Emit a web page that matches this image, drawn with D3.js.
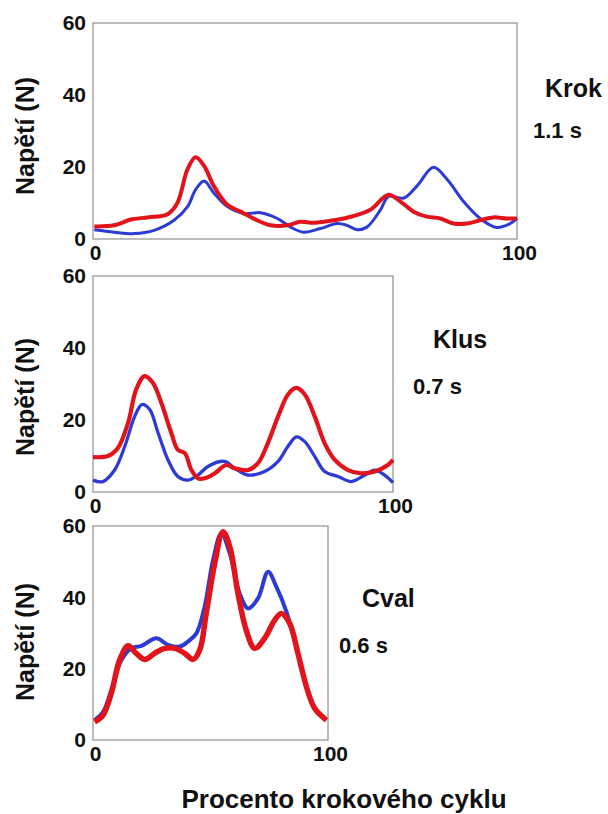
<!DOCTYPE html>
<html>
<head>
<meta charset="utf-8">
<script src="https://cdn.jsdelivr.net/npm/d3@7"></script>
<style>
  body { margin: 0; background: #fff; }
  text { font-family: "Liberation Sans", Arial, sans-serif; font-weight: bold; fill: #111; }
</style>
</head>
<body>
<div id="vis"></div>
<script>
const WIDTH = 608;
const HEIGHT = 814;

// gait names and stride duration
const gaits = ["Krok", "Klus", "Cval"];
const times = ["1.1 s", "0.7 s", "0.6 s"];
const yTicks = [0, 20, 40, 60];
const xTicks = [0, 100];

// [percent of stride, tension N]
const krokBlue = [[0.3,2.6],[5,1.9],[9.7,1.5],[14.4,2.4],[19.1,5.2],[22.3,9],[24.2,13.7],[26.2,16.1],[28.5,12.8],
  [31.7,9],[35.6,7.1],[39.5,7.3],[43.5,5.7],[46.6,3.3],[49.7,1.9],[53.6,2.9],[57.6,4.3],[59.9,3.8],[62.3,2.6],
  [64.6,3.3],[67.8,8.1],[69.7,11.8],[73.3,11.4],[76.4,14.7],[80.3,19.9],[83.5,16.6],[87.4,10.4],[91.3,5.7],
  [95.2,3.2],[98.4,4.3],[100,5.7]];
const krokRed = [[0.3,3.5],[5,3.8],[8.9,5.4],[12.9,6],[17.6,6.9],[19.9,10],[22.3,19.4],[24.2,22.7],[26.2,20.3],
  [28.5,14.7],[31.7,9.5],[34.8,7.6],[38.7,5.2],[41.9,3.8],[45.8,3.8],[48.9,4.8],[52.1,4.5],[56.8,5.2],[61.5,6.4],
  [65.4,8.1],[69.7,12.3],[72.5,10.4],[75.6,7.6],[78.7,6.2],[81.9,5.7],[85,4.3],[88.2,4.3],[91.3,5.2],[94.4,6],
  [97.6,5.7],[100,5.7]];

const klusBlue = [[0,3.3],[3.3,2.9],[7.2,6.1],[10.6,12.7],[13.9,21],[16.3,24.3],[18.9,22.9],[21.7,16.4],[25,8.9],
  [28.3,4.3],[31.7,3.3],[35,4.7],[38.3,7.1],[43.9,8.5],[47.2,6.6],[51.7,4.7],[57.2,5.7],[61.7,8.5],[65,12.7],
  [67.8,15.3],[70.6,14],[73.9,9.9],[77.2,5.7],[81.7,4.3],[86.1,2.9],[90.6,4.7],[93.9,6.1],[97.2,4.7],[100,2.6]];
const klusRed = [[0,9.7],[5,10],[8.3,12.2],[11.7,19.2],[14.4,28.5],[17.2,32.2],[20,30.3],[22.8,24.7],[26.1,16.4],
  [28.3,11.7],[30.6,10.8],[32.8,6.1],[35,3.8],[37.2,3.8],[40.6,5.2],[44.4,7.5],[47.2,6.6],[51.7,6.1],[55,8],
  [58.3,13.6],[61.7,21],[65,27.1],[67.8,28.9],[70.6,27.1],[73.9,21],[77.2,13.6],[80.6,8.9],[85,6.1],[89.4,5.2],
  [93.9,5.7],[98.3,7.5],[100,8.9]];

const cvalBlue = [[0.7,5.6],[4.3,7.9],[7.8,14],[12.1,22.4],[16.3,25.7],[20.6,26.4],[27,28.5],[31.9,26.7],[36.9,26.2],
  [40.4,27.6],[44,29.9],[47.5,37.4],[51.1,50.5],[54.6,57.9],[58.2,52.3],[62.4,41.1],[66,36.9],[70.2,39.7],
  [74.5,47.2],[78,43],[82.3,36],[87.2,24.3],[90.8,15],[94.3,8.9],[99.3,5.6]];
const cvalRed = [[0.7,5.1],[4.3,7],[7.8,13.1],[11.3,22.4],[14.9,26.4],[18.4,24.3],[22,22.6],[26.2,24.3],[30.5,25.7],
  [34.8,25.7],[39,24.3],[42.6,22.6],[45.4,25.2],[48.2,35.5],[51.8,49.5],[55.3,58.4],[58.2,54.2],[61.7,41.1],
  [65.2,30.8],[68.8,25.7],[73,28.5],[77.3,33.6],[80.1,35.5],[83.7,32.7],[87.2,24.3],[90.8,15],[94.3,8.9],[99.3,5.6]];

const blues = [krokBlue, klusBlue, cvalBlue];
const reds = [krokRed, klusRed, cvalRed];

// panel frames (pixels)
const PANELS = [
  {left: 93, right: 517, top: 23, bottom: 239, nameX: 545, nameY: 97, timeX: 533, timeY: 138, labY: 136, bw: 3, rw: 4},
  {left: 93, right: 393, top: 276, bottom: 492, nameX: 433, nameY: 348, timeX: 413, timeY: 394, labY: 397, bw: 3.3, rw: 4.2},
  {left: 93, right: 328, top: 526, bottom: 740, nameX: 362, nameY: 607, timeX: 339, timeY: 653, labY: 642, bw: 4, rw: 5.5}
];

const svg = d3.select("#vis").append("svg")
  .attr("width", WIDTH)
  .attr("height", HEIGHT);

PANELS.forEach((p, i) => {
  const x = d3.scaleLinear().domain([0, 100]).range([p.left, p.right]);
  const y = d3.scaleLinear().domain([0, 60]).range([p.bottom, p.top]);

  const line = d3.line()
    .x(d => x(d[0]))
    .y(d => y(d[1]))
    .curve(d3.curveCatmullRom.alpha(0.5));

  // frame
  svg.append("rect")
    .attr("x", p.left).attr("y", p.top)
    .attr("width", p.right - p.left).attr("height", p.bottom - p.top)
    .attr("fill", "none").attr("stroke", "#999").attr("stroke-width", 1.3);

  svg.append("path").datum(blues[i])
    .attr("d", line).attr("fill", "none")
    .attr("stroke", "#2b3bd4").attr("stroke-width", p.bw)
    .attr("stroke-linejoin", "round");
  svg.append("path").datum(reds[i])
    .attr("d", line).attr("fill", "none")
    .attr("stroke", "#e0141a").attr("stroke-width", p.rw)
    .attr("stroke-linejoin", "round");

  // axes, labels only
  const ya = svg.append("g")
    .attr("transform", `translate(${p.left - 1},0)`)
    .call(d3.axisLeft(y).tickValues(yTicks).tickSize(0).tickPadding(6));
  const xa = svg.append("g")
    .attr("transform", `translate(2,${p.bottom + 4})`)
    .call(d3.axisBottom(x).tickValues(xTicks).tickSize(0).tickPadding(2));
  [ya, xa].forEach(g => {
    g.select(".domain").remove();
    g.selectAll("text").style("font-size", "21px").style("font-family", "Liberation Sans, Arial, sans-serif")
      .style("font-weight", "bold").attr("fill", "#111");
  });

  svg.append("text")
    .attr("transform", `translate(34,${p.labY}) rotate(-90)`)
    .attr("text-anchor", "middle")
    .style("font-size", "25px")
    .text("Napětí (N)");

  svg.append("text")
    .attr("x", p.nameX).attr("y", p.nameY)
    .style("font-size", "25px")
    .text(gaits[i]);
  svg.append("text")
    .attr("x", p.timeX).attr("y", p.timeY)
    .style("font-size", "22px")
    .text(times[i]);
});

svg.append("text")
  .attr("x", 344).attr("y", 808)
  .attr("text-anchor", "middle")
  .style("font-size", "26px")
  .text("Procento krokového cyklu");
</script>
</body>
</html>
